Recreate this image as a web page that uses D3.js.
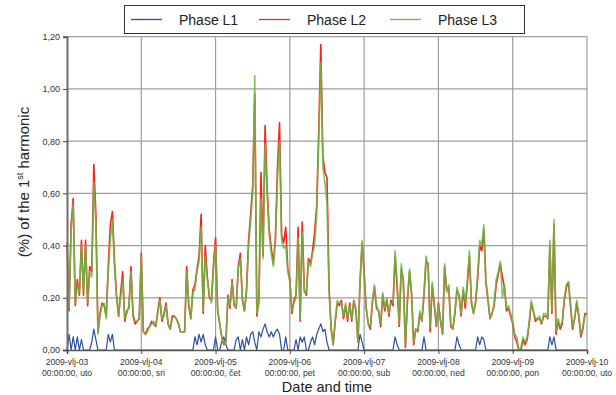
<!DOCTYPE html>
<html>
<head>
<meta charset="utf-8">
<script src="https://cdn.jsdelivr.net/npm/d3@7"></script>
<style>
  body { margin: 0; background: #fff; }
  svg { display: block; font-family: "Liberation Sans", Arial, sans-serif; }
</style>
</head>
<body>
<svg id="chart" width="616" height="395"></svg>
<script>
// Harmonic content per phase, sampled every 40 minutes from 2009-02-03 00:00 to 2009-02-10 00:00
const dateLabels = ["2009-vlj-03", "2009-vlj-04", "2009-vlj-05", "2009-vlj-06",
                    "2009-vlj-07", "2009-vlj-08", "2009-vlj-09", "2009-vlj-10"];
const dayLabels = ["uto", "sri", "čet", "pet", "sub", "ned", "pon", "uto"];
const yTicks = [0, 0.2, 0.4, 0.6, 0.8, 1.0, 1.2];
const stepHours = 40 / 60;
const seriesNames = ["Phase L1", "Phase L2", "Phase L3"];

const phaseL1 = [
  0,0.06,0,0.05,0,0.05,0,0.04,0,0,0,0,
  0.03,0.08,0.04,0,0,0,0,0,0.06,0.03,0.06,0,
  0,0,0,0,0,0,0,0,0,0,0,0,
  0,0,0,0,0,0,0,0,0,0,0,0,
  0,0,0,0,0,0,0,0,0,0,0,0,
  0,0,0.05,0.02,0.06,0.03,0.06,0.02,0,0,0,0,
  0.05,0,0,0.03,0.05,0.02,0,0,0,0,0.04,0.05,
  0,0.04,0,0.05,0.02,0.06,0.07,0.03,0,0.07,0.05,0.08,
  0.10,0.07,0.05,0.07,0.05,0.07,0.08,0.06,0,0,0.05,0,
  0,0,0,0.04,0,0.05,0.03,0.05,0,0,0.03,0.05,
  0.02,0.06,0.08,0.10,0.07,0.08,0.03,0,0,0,0,0,
  0,0,0,0,0,0,0,0,0,0,0.06,0.03,
  0,0,0,0,0,0,0,0,0,0,0,0,
  0,0,0,0.05,0.02,0,0,0,0,0,0,0,
  0,0,0,0,0,0.05,0,0,0,0,0,0,
  0,0,0,0,0,0,0,0,0,0.05,0.02,0,
  0,0,0,0,0,0,0,0.05,0.02,0.05,0.04,0,
  0,0,0,0,0,0,0,0,0,0,0,0,
  0,0,0,0,0,0,0,0,0,0,0,0,
  0,0,0,0,0,0,0.05,0.02,0.05,0,0,0,
  0,0,0,0,0,0,0,0,0,0,0,0,
  0
];

const phaseL2 = [
  0.41,0.15,0.48,0.58,0.17,0.27,0.21,0.42,0.21,0.42,0.17,0.32,
  0.30,0.71,0.52,0.07,0.14,0.18,0.17,0.13,0.32,0.48,0.53,0.34,
  0.21,0.13,0.22,0.30,0.11,0.15,0.16,0.32,0.13,0.10,0.11,0.12,
  0.37,0.07,0.06,0.08,0.09,0.11,0.10,0.09,0.15,0.20,0.11,0.14,
  0.18,0.10,0.08,0.13,0.13,0.12,0.10,0.07,0.07,0.07,0.32,0.17,
  0.12,0.23,0.25,0.31,0.36,0.52,0.14,0.40,0.28,0.20,0.19,0.33,
  0.43,0.15,0.10,0.05,0.02,0.03,0.21,0.16,0.27,0.17,0.16,0.32,
  0.37,0.19,0.15,0.23,0.42,0.52,0.63,0.98,0.13,0.19,0.68,0.36,
  0.86,0.62,0.46,0.39,0.33,0.43,0.70,0.87,0.44,0.41,0.47,0.31,
  0.27,0.14,0.19,0.21,0.47,0.11,0.49,0.23,0.21,0.35,0.33,0.38,
  0.45,0.55,0.84,1.17,0.74,0.68,0.66,0.24,0.08,0.02,0.11,0.18,
  0.17,0.19,0.12,0.17,0.11,0.18,0.11,0.19,0.15,0.03,0.26,0.41,
  0.30,0.16,0.10,0.08,0.18,0.24,0.16,0.15,0.09,0.21,0.15,0.19,
  0.13,0.19,0.17,0.36,0.24,0.09,0.31,0.27,0.01,0.19,0.30,0.21,
  0.02,0.08,0.07,0.14,0.11,0.21,0.34,0.33,0.07,0.25,0.17,0.09,
  0.18,0.11,0.06,0.32,0.23,0.24,0.09,0.08,0.14,0.23,0.21,0.13,
  0.23,0.16,0.25,0.36,0.18,0.14,0.18,0.27,0.40,0.38,0.46,0.26,
  0.19,0.12,0.14,0.17,0.25,0.29,0.33,0.28,0.24,0.15,0.16,0.13,
  0.10,0.05,0.03,0.00,0.00,0.04,0.02,0.04,0.10,0.18,0.15,0.11,
  0.12,0.12,0.10,0.13,0.13,0.12,0.40,0.14,0.48,0.06,0.11,0.08,
  0.10,0.19,0.24,0.26,0.17,0.08,0.12,0.18,0.13,0.05,0.08,0.14,
  0.14
];

const phaseL3 = [
  0.40,0.16,0.46,0.56,0.18,0.25,0.22,0.40,0.22,0.40,0.18,0.30,
  0.28,0.64,0.48,0.06,0.13,0.17,0.18,0.12,0.30,0.42,0.50,0.32,
  0.20,0.14,0.20,0.27,0.12,0.14,0.17,0.30,0.14,0.11,0.11,0.12,
  0.36,0.07,0.06,0.07,0.09,0.10,0.11,0.09,0.14,0.19,0.12,0.13,
  0.17,0.10,0.08,0.12,0.13,0.12,0.10,0.07,0.07,0.07,0.30,0.18,
  0.12,0.22,0.23,0.30,0.34,0.47,0.15,0.36,0.27,0.21,0.18,0.31,
  0.40,0.16,0.10,0.05,0.02,0.03,0.20,0.17,0.26,0.18,0.16,0.31,
  0.35,0.20,0.15,0.22,0.40,0.49,0.60,1.05,0.14,0.18,0.58,0.35,
  0.79,0.59,0.44,0.37,0.32,0.41,0.65,0.80,0.42,0.39,0.40,0.30,
  0.26,0.15,0.18,0.20,0.43,0.12,0.45,0.22,0.22,0.34,0.32,0.37,
  0.40,0.52,0.80,1.10,0.70,0.64,0.56,0.22,0.09,0.02,0.12,0.19,
  0.18,0.18,0.13,0.18,0.12,0.17,0.12,0.19,0.16,0.03,0.25,0.42,
  0.28,0.16,0.10,0.09,0.19,0.25,0.17,0.15,0.10,0.22,0.16,0.20,
  0.14,0.18,0.18,0.38,0.26,0.10,0.33,0.26,0.02,0.20,0.31,0.22,
  0.03,0.08,0.07,0.15,0.11,0.22,0.36,0.32,0.09,0.26,0.18,0.10,
  0.17,0.12,0.06,0.33,0.22,0.25,0.10,0.08,0.15,0.24,0.20,0.14,
  0.24,0.18,0.27,0.38,0.19,0.14,0.19,0.29,0.42,0.40,0.48,0.27,
  0.20,0.12,0.14,0.18,0.27,0.30,0.34,0.20,0.25,0.16,0.17,0.14,
  0.11,0.06,0.05,0.00,0.01,0.05,0.03,0.05,0.11,0.19,0.15,0.12,
  0.12,0.13,0.10,0.14,0.14,0.12,0.42,0.15,0.50,0.07,0.12,0.09,
  0.11,0.20,0.25,0.26,0.18,0.09,0.12,0.19,0.14,0.06,0.09,0.13,
  0.14
];

const seriesColors = ["#2c4f9e", "#ff2020", "#64bd42"];
const seriesOpacity = [1, 1, 0.85];
const seriesWidth = [1.2, 1.6, 1.6];
const series = [phaseL1, phaseL2, phaseL3];
const dayHours = dateLabels.map((_, i) => i * 24);

const svg = d3.select("#chart");
const plot = { left: 67, right: 587, top: 36.7, bottom: 350 };

const x = d3.scaleLinear().domain([0, 168]).range([plot.left, plot.right]);
const y = d3.scaleLinear().domain([0, 1.2]).range([plot.bottom, plot.top]);

// grid
const grid = svg.append("g").attr("stroke", "#9e9e9e").attr("stroke-width", 1.2);
yTicks.filter(v => v > 0).forEach(v => {
  grid.append("line").attr("x1", plot.left).attr("x2", plot.right)
    .attr("y1", y(v)).attr("y2", y(v));
});
dayHours.filter(h => h > 0).forEach(h => {
  grid.append("line").attr("x1", x(h)).attr("x2", x(h))
    .attr("y1", plot.top).attr("y2", plot.bottom);
});

// series lines
const line = d3.line()
  .x((d, i) => x(i * stepHours))
  .y(d => y(d));

series.forEach((s, k) => {
  svg.append("path")
    .datum(s)
    .attr("fill", "none")
    .attr("stroke", seriesColors[k])
    .attr("stroke-opacity", seriesOpacity[k])
    .attr("stroke-width", seriesWidth[k])
    .attr("stroke-linejoin", "round")
    .attr("d", line);
});

// axes
const yAxis = svg.append("g")
  .attr("transform", `translate(${plot.left},0)`)
  .call(d3.axisLeft(y).tickValues(yTicks).tickSize(4).tickPadding(3)
    .tickFormat(d => d.toFixed(2).replace(".", ",")));
yAxis.select(".domain").attr("stroke", "#6e6e6e").attr("stroke-width", 2);
yAxis.selectAll(".tick line").attr("stroke", "#444");
yAxis.selectAll(".tick text").attr("font-size", 9).attr("fill", "#333")
  .attr("font-family", "'Liberation Sans', Arial, sans-serif");

const xAxis = svg.append("g")
  .attr("transform", `translate(0,${plot.bottom})`)
  .call(d3.axisBottom(x).tickValues(dayHours).tickSize(4).tickFormat(""));
xAxis.select(".domain").attr("stroke", "#555").attr("stroke-width", 1.5);
xAxis.selectAll(".tick line").attr("stroke", "#444");

const xLabels = svg.append("g")
  .attr("font-size", 8.6).attr("fill", "#333").attr("text-anchor", "middle");
dayHours.forEach((h, i) => {
  const t = xLabels.append("text").attr("x", x(h)).attr("y", 365);
  t.append("tspan").attr("x", x(h)).attr("y", 365).text(dateLabels[i]);
  t.append("tspan").attr("x", x(h)).attr("y", 376).text(`00:00:00, ${dayLabels[i]}`);
});

// axis titles
svg.append("text")
  .attr("x", (plot.left + plot.right) / 2).attr("y", 392)
  .attr("text-anchor", "middle").attr("font-size", 14.5).attr("fill", "#222")
  .text("Date and time");

const yTitle = svg.append("text")
  .attr("transform", "translate(29,182) rotate(-90)")
  .attr("text-anchor", "middle").attr("font-size", 15).attr("fill", "#222");
yTitle.append("tspan").text("(%) of the 1");
yTitle.append("tspan").attr("font-size", 9).attr("dy", -6).text("st");
yTitle.append("tspan").attr("dy", 6).text(" harmonic");

// legend
const legend = svg.append("g");
legend.append("rect")
  .attr("x", 124.5).attr("y", 5.5).attr("width", 400).attr("height", 28)
  .attr("fill", "#fff").attr("stroke", "#333").attr("stroke-width", 1);
const legendX = [131, 259, 390];
seriesNames.forEach((name, k) => {
  legend.append("line")
    .attr("x1", legendX[k]).attr("x2", legendX[k] + 31)
    .attr("y1", 19.5).attr("y2", 19.5)
    .attr("stroke", seriesColors[k]).attr("stroke-width", 1.3);
  legend.append("text")
    .attr("x", legendX[k] + 48).attr("y", 24.5)
    .attr("font-size", 14).attr("fill", "#222")
    .text(name);
});
</script>
</body>
</html>
